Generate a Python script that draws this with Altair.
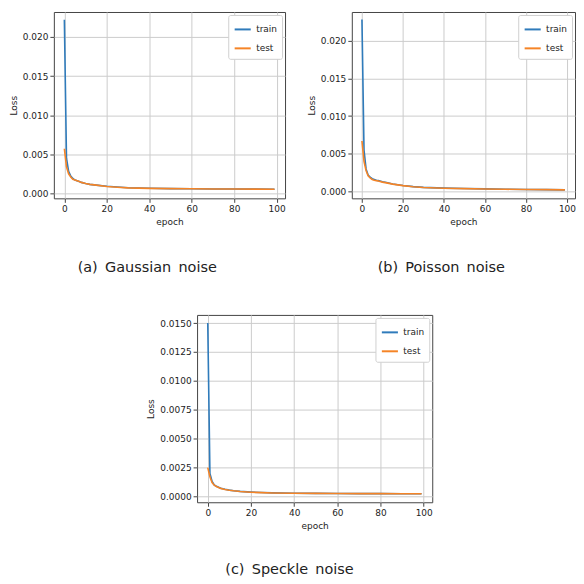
import altair as alt
import pandas as pd

epochs = [0, 1, 2, 3, 4, 5, 6, 7, 8, 10, 12, 15, 20, 25, 30, 40, 50, 60, 70, 80, 90, 99]

gauss_train = [0.0222, 0.0045, 0.0028, 0.0022, 0.0019, 0.0017, 0.0016, 0.0015, 0.0014, 0.00125, 0.00115,
               0.00105, 0.0009, 0.0008, 0.00072, 0.00065, 0.0006, 0.00058, 0.00056, 0.00055, 0.00054, 0.00053]
gauss_test = [0.0057, 0.0034, 0.0025, 0.0021, 0.0018, 0.0017, 0.0016, 0.0015, 0.0014, 0.00125, 0.00115,
              0.00105, 0.00088, 0.00078, 0.0007, 0.00064, 0.0006, 0.00058, 0.00056, 0.00055, 0.00054, 0.00053]

poisson_train = [0.0228, 0.0055, 0.0030, 0.0022, 0.0019, 0.0017, 0.0016, 0.0015, 0.00145, 0.0013, 0.0012,
                 0.001, 0.0008, 0.00065, 0.00055, 0.00045, 0.0004, 0.00035, 0.0003, 0.00028, 0.00025, 0.00022]
poisson_test = [0.0067, 0.0040, 0.0028, 0.0021, 0.0018, 0.0016, 0.0015, 0.00145, 0.0014, 0.00125, 0.00115,
                0.00098, 0.00078, 0.00063, 0.00053, 0.00044, 0.00039, 0.00034, 0.0003, 0.00027, 0.00025, 0.00022]

speckle_train = [0.0150, 0.0020, 0.0013, 0.0010, 0.00088, 0.0008, 0.00072, 0.00066, 0.00062, 0.00055, 0.0005,
                 0.00044, 0.00038, 0.00034, 0.00031, 0.00028, 0.00027, 0.00026, 0.00025, 0.00025, 0.00024, 0.00024]
speckle_test = [0.0025, 0.0017, 0.0012, 0.00098, 0.00086, 0.00078, 0.0007, 0.00065, 0.0006, 0.00054, 0.00049,
                0.00043, 0.00037, 0.00033, 0.0003, 0.00028, 0.00027, 0.00026, 0.00025, 0.00025, 0.00024, 0.00024]

series_names = ["train", "test"]
x_ticks = [0, 20, 40, 60, 80, 100]
y_ticks_ab = [0.0, 0.005, 0.010, 0.015, 0.020]
y_ticks_c = [0.0, 0.0025, 0.0050, 0.0075, 0.0100, 0.0125, 0.0150]
captions = ["(a)\u2002Gaussian\u2002noise", "(b)\u2002Poisson\u2002noise", "(c)\u2002Speckle\u2002noise"]

COLORS = ["#2f7bbb", "#f58426"]


def frame(train, test):
    rows = []
    for e, v in zip(epochs, train):
        rows.append({"epoch": e, "loss": v, "series": "train", "order": 0})
    for e, v in zip(epochs, test):
        rows.append({"epoch": e, "loss": v, "series": "test", "order": 1})
    return pd.DataFrame(rows)


def panel(train, test, ydom, yticks, yfmt, caption, w, h, cap_offset):
    df = frame(train, test)
    return alt.Chart(df).mark_line(strokeWidth=1.6).encode(
        x=alt.X("epoch:Q", scale=alt.Scale(domain=[-4.95, 103.95], nice=False, zero=False),
                axis=alt.Axis(values=x_ticks, title="epoch", format="d")),
        y=alt.Y("loss:Q", scale=alt.Scale(domain=ydom, nice=False, zero=False),
                axis=alt.Axis(values=yticks, title="Loss", format=yfmt)),
        color=alt.Color("series:N", scale=alt.Scale(domain=series_names, range=COLORS),
                        legend=alt.Legend(title=None, orient="top-right", offset=3,
                                          symbolType="stroke", symbolStrokeWidth=2, symbolSize=260,
                                          labelFontSize=9, labelFont="DejaVu Sans", labelColor="#222",
                                          strokeColor="#d0d0d0", fillColor="white", padding=5,
                                          cornerRadius=2, rowPadding=4)),
        detail="series:N",
        order="order:Q",
    ).properties(
        width=w, height=h,
        title=alt.TitleParams(caption, orient="bottom", anchor="middle", frame="bounds",
                              font="DejaVu Sans", fontSize=14.5, fontWeight="normal",
                              color="#222", offset=cap_offset),
    )


a = panel(gauss_train, gauss_test, [-0.00064, 0.0232], y_ticks_ab, ".3f", captions[0], 232, 187, 35)
b = panel(poisson_train, poisson_test, [-0.0009, 0.0238], y_ticks_ab, ".3f", captions[1], 224, 187, 35)
c = panel(speckle_train, speckle_test, [-0.0005, 0.0157], y_ticks_c, ".4f", captions[2], 236, 188, 33)

top = alt.hconcat(a, b, spacing=20).resolve_scale(color="independent").resolve_legend(color="independent")
chart = alt.vconcat(top, c, spacing=39, center=True).resolve_scale(
    color="independent").resolve_legend(color="independent").properties(
    padding={"left": 0, "top": 2, "right": 0, "bottom": 0}
).configure_view(
    stroke="#444", strokeWidth=1
).configure_axis(
    domain=False, grid=True, gridColor="#cccccc", gridWidth=1,
    tickColor="#444", tickSize=4, labelFont="DejaVu Sans", labelFontSize=9, labelColor="#222",
    titleFont="DejaVu Sans", titleFontSize=9, titleFontWeight="normal", titleColor="#222",
    labelPadding=2, titlePadding=4
)

chart.save("out.html", embed_options={"renderer": "svg", "actions": False})
